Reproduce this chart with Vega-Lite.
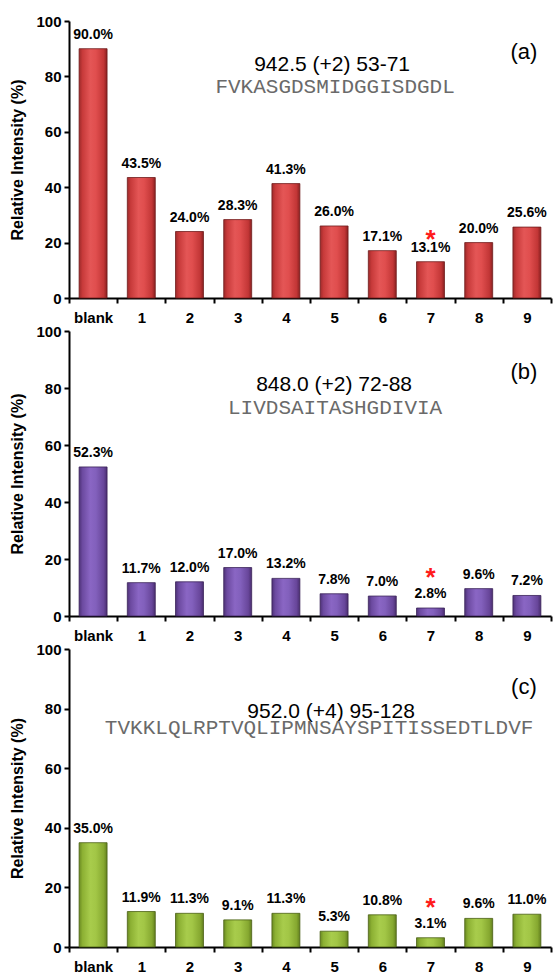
{
  "$schema": "https://vega.github.io/schema/vega-lite/v6.json",
  "background": "white",
  "padding": {"left": 9, "top": 14, "right": 2, "bottom": 2},
  "spacing": 33,
  "bounds": "flush",
  "config": {
    "view": {"stroke": null},
    "font": "Liberation Sans",
    "axis": {
      "domainColor": "black", "domainWidth": 2,
      "tickColor": "black", "tickWidth": 2, "tickSize": 5,
      "labelFont": "Liberation Sans", "labelFontWeight": "bold", "labelFontSize": 15, "labelColor": "black",
      "titleFont": "Liberation Sans", "titleFontWeight": "bold", "titleFontSize": 16, "titleColor": "black",
      "grid": false
    }
  },
  "datasets": {
    "bars": [
      {"panel": "a", "sample": "blank", "value": 90.0, "label": "90.0%"},
      {"panel": "a", "sample": "1", "value": 43.5, "label": "43.5%"},
      {"panel": "a", "sample": "2", "value": 24.0, "label": "24.0%"},
      {"panel": "a", "sample": "3", "value": 28.3, "label": "28.3%"},
      {"panel": "a", "sample": "4", "value": 41.3, "label": "41.3%"},
      {"panel": "a", "sample": "5", "value": 26.0, "label": "26.0%"},
      {"panel": "a", "sample": "6", "value": 17.1, "label": "17.1%"},
      {"panel": "a", "sample": "7", "value": 13.1, "label": "13.1%"},
      {"panel": "a", "sample": "8", "value": 20.0, "label": "20.0%"},
      {"panel": "a", "sample": "9", "value": 25.6, "label": "25.6%"},
      {"panel": "b", "sample": "blank", "value": 52.3, "label": "52.3%"},
      {"panel": "b", "sample": "1", "value": 11.7, "label": "11.7%"},
      {"panel": "b", "sample": "2", "value": 12.0, "label": "12.0%"},
      {"panel": "b", "sample": "3", "value": 17.0, "label": "17.0%"},
      {"panel": "b", "sample": "4", "value": 13.2, "label": "13.2%"},
      {"panel": "b", "sample": "5", "value": 7.8, "label": "7.8%"},
      {"panel": "b", "sample": "6", "value": 7.0, "label": "7.0%"},
      {"panel": "b", "sample": "7", "value": 2.8, "label": "2.8%"},
      {"panel": "b", "sample": "8", "value": 9.6, "label": "9.6%"},
      {"panel": "b", "sample": "9", "value": 7.2, "label": "7.2%"},
      {"panel": "c", "sample": "blank", "value": 35.0, "label": "35.0%"},
      {"panel": "c", "sample": "1", "value": 11.9, "label": "11.9%"},
      {"panel": "c", "sample": "2", "value": 11.3, "label": "11.3%"},
      {"panel": "c", "sample": "3", "value": 9.1, "label": "9.1%"},
      {"panel": "c", "sample": "4", "value": 11.3, "label": "11.3%"},
      {"panel": "c", "sample": "5", "value": 5.3, "label": "5.3%"},
      {"panel": "c", "sample": "6", "value": 10.8, "label": "10.8%"},
      {"panel": "c", "sample": "7", "value": 3.1, "label": "3.1%"},
      {"panel": "c", "sample": "8", "value": 9.6, "label": "9.6%"},
      {"panel": "c", "sample": "9", "value": 11.0, "label": "11.0%"}
    ]
  },
  "vconcat": [
    {
      "width": 482, "height": 277,
      "layer": [
        {"data": {"name": "bars"}, "transform": [{"filter": "datum.panel === 'a'"}],
         "mark": {"type": "bar", "width": {"band": 0.58}, "stroke": "#6e1c1c", "strokeWidth": 0.8,
                  "fill": {"gradient": "linear", "x1": 0, "y1": 0, "x2": 1, "y2": 0,
                           "stops": [{"offset": 0, "color": "#9e2a2a"}, {"offset": 0.12, "color": "#c73a3a"}, {"offset": 0.4, "color": "#e45656"}, {"offset": 0.6, "color": "#e04e4e"}, {"offset": 0.88, "color": "#c23636"}, {"offset": 1, "color": "#8a2020"}]}},
         "encoding": {
           "x": {"field": "sample", "type": "nominal",
                 "scale": {"domain": ["blank","1","2","3","4","5","6","7","8","9"], "paddingInner": 0, "paddingOuter": 0},
                 "axis": {"title": null, "labelAngle": 0, "tickBand": "extent", "labelPadding": 7}},
           "y": {"field": "value", "type": "quantitative",
                 "scale": {"domain": [0, 100]},
                 "axis": {"title": "Relative Intensity (%)", "values": [0,20,40,60,80,100], "labelPadding": 3, "titlePadding": 10}}
         }},
        {"data": {"name": "bars"}, "transform": [{"filter": "datum.panel === 'a'"}],
         "mark": {"type": "text", "fontWeight": "bold", "fontSize": 14, "color": "black", "baseline": "alphabetic", "dy": -10},
         "encoding": {"x": {"field": "sample", "type": "nominal"}, "y": {"field": "value", "type": "quantitative"}, "text": {"field": "label"}}},
        {"data": {"name": "bars"}, "transform": [{"filter": "datum.panel === 'a' && datum.sample === '7'"}],
         "mark": {"type": "text", "text": "*", "fontWeight": "bold", "fontSize": 26, "color": "#ff1a1a", "baseline": "alphabetic", "dy": -14},
         "encoding": {"x": {"field": "sample", "type": "nominal"}, "y": {"field": "value", "type": "quantitative"}}},
        {"data": {"values": [{"mass": "942.5 (+2) 53-71", "seq": "FVKASGDSMIDGGISDGDL", "letter": "(a)"}]},
         "mark": {"type": "text", "fontSize": 21, "color": "black", "baseline": "middle", "dx": -2},
         "encoding": {"x": {"datum": "5"}, "y": {"datum": 84.1}, "text": {"field": "mass"}}},
        {"data": {"values": [{"mass": "942.5 (+2) 53-71", "seq": "FVKASGDSMIDGGISDGDL", "letter": "(a)"}]},
         "mark": {"type": "text", "font": "Liberation Mono", "fontSize": 21, "color": "#6a6a6a", "baseline": "middle", "dx": 1},
         "encoding": {"x": {"datum": "5"}, "y": {"datum": 76.0}, "text": {"field": "seq"}}},
        {"data": {"values": [{"mass": "942.5 (+2) 53-71", "seq": "FVKASGDSMIDGGISDGDL", "letter": "(a)"}]},
         "mark": {"type": "text", "fontSize": 22, "color": "black", "baseline": "middle", "dx": -3},
         "encoding": {"x": {"datum": "9"}, "y": {"datum": 88.8}, "text": {"field": "letter"}}}
      ]
    },
    {
      "width": 482, "height": 285,
      "layer": [
        {"data": {"name": "bars"}, "transform": [{"filter": "datum.panel === 'b'"}],
         "mark": {"type": "bar", "width": {"band": 0.58}, "stroke": "#3a2258", "strokeWidth": 0.8,
                  "fill": {"gradient": "linear", "x1": 0, "y1": 0, "x2": 1, "y2": 0,
                           "stops": [{"offset": 0, "color": "#4e3278"}, {"offset": 0.12, "color": "#6c4aa0"}, {"offset": 0.4, "color": "#8a66c4"}, {"offset": 0.6, "color": "#8260bc"}, {"offset": 0.88, "color": "#68469a"}, {"offset": 1, "color": "#4a2e70"}]}},
         "encoding": {
           "x": {"field": "sample", "type": "nominal",
                 "scale": {"domain": ["blank","1","2","3","4","5","6","7","8","9"], "paddingInner": 0, "paddingOuter": 0},
                 "axis": {"title": null, "labelAngle": 0, "tickBand": "extent", "labelPadding": 7}},
           "y": {"field": "value", "type": "quantitative",
                 "scale": {"domain": [0, 100]},
                 "axis": {"title": "Relative Intensity (%)", "values": [0,20,40,60,80,100], "labelPadding": 3, "titlePadding": 10}}
         }},
        {"data": {"name": "bars"}, "transform": [{"filter": "datum.panel === 'b'"}],
         "mark": {"type": "text", "fontWeight": "bold", "fontSize": 14, "color": "black", "baseline": "alphabetic", "dy": -10},
         "encoding": {"x": {"field": "sample", "type": "nominal"}, "y": {"field": "value", "type": "quantitative"}, "text": {"field": "label"}}},
        {"data": {"name": "bars"}, "transform": [{"filter": "datum.panel === 'b' && datum.sample === '7'"}],
         "mark": {"type": "text", "text": "*", "fontWeight": "bold", "fontSize": 26, "color": "#ff1a1a", "baseline": "alphabetic", "dy": -22},
         "encoding": {"x": {"field": "sample", "type": "nominal"}, "y": {"field": "value", "type": "quantitative"}}},
        {"data": {"values": [{"mass": "848.0 (+2) 72-88", "seq": "LIVDSAITASHGDIVIA", "letter": "(b)"}]},
         "mark": {"type": "text", "fontSize": 21, "color": "black", "baseline": "middle", "dx": 0},
         "encoding": {"x": {"datum": "5"}, "y": {"datum": 81.1}, "text": {"field": "mass"}}},
        {"data": {"values": [{"mass": "848.0 (+2) 72-88", "seq": "LIVDSAITASHGDIVIA", "letter": "(b)"}]},
         "mark": {"type": "text", "font": "Liberation Mono", "fontSize": 21, "color": "#6a6a6a", "baseline": "middle", "dx": 1},
         "encoding": {"x": {"datum": "5"}, "y": {"datum": 73.0}, "text": {"field": "seq"}}},
        {"data": {"values": [{"mass": "848.0 (+2) 72-88", "seq": "LIVDSAITASHGDIVIA", "letter": "(b)"}]},
         "mark": {"type": "text", "fontSize": 22, "color": "black", "baseline": "middle", "dx": -3},
         "encoding": {"x": {"datum": "9"}, "y": {"datum": 85.6}, "text": {"field": "letter"}}}
      ]
    },
    {
      "width": 482, "height": 298,
      "layer": [
        {"data": {"name": "bars"}, "transform": [{"filter": "datum.panel === 'c'"}],
         "mark": {"type": "bar", "width": {"band": 0.58}, "stroke": "#4a6014", "strokeWidth": 0.8,
                  "fill": {"gradient": "linear", "x1": 0, "y1": 0, "x2": 1, "y2": 0,
                           "stops": [{"offset": 0, "color": "#6a8a22"}, {"offset": 0.12, "color": "#8cb033"}, {"offset": 0.4, "color": "#a8cc4c"}, {"offset": 0.6, "color": "#a2c646"}, {"offset": 0.88, "color": "#86a830"}, {"offset": 1, "color": "#63801e"}]}},
         "encoding": {
           "x": {"field": "sample", "type": "nominal",
                 "scale": {"domain": ["blank","1","2","3","4","5","6","7","8","9"], "paddingInner": 0, "paddingOuter": 0},
                 "axis": {"title": null, "labelAngle": 0, "tickBand": "extent", "labelPadding": 7}},
           "y": {"field": "value", "type": "quantitative",
                 "scale": {"domain": [0, 100]},
                 "axis": {"title": "Relative Intensity (%)", "values": [0,20,40,60,80,100], "labelPadding": 3, "titlePadding": 10}}
         }},
        {"data": {"name": "bars"}, "transform": [{"filter": "datum.panel === 'c'"}],
         "mark": {"type": "text", "fontWeight": "bold", "fontSize": 14, "color": "black", "baseline": "alphabetic", "dy": -10},
         "encoding": {"x": {"field": "sample", "type": "nominal"}, "y": {"field": "value", "type": "quantitative"}, "text": {"field": "label"}}},
        {"data": {"name": "bars"}, "transform": [{"filter": "datum.panel === 'c' && datum.sample === '7'"}],
         "mark": {"type": "text", "text": "*", "fontWeight": "bold", "fontSize": 26, "color": "#ff1a1a", "baseline": "alphabetic", "dy": -22},
         "encoding": {"x": {"field": "sample", "type": "nominal"}, "y": {"field": "value", "type": "quantitative"}}},
        {"data": {"values": [{"mass": "952.0 (+4) 95-128", "seq": "TVKKLQLRPTVQLIPMNSAYSPITISSEDTLDVF", "letter": "(c)"}]},
         "mark": {"type": "text", "fontSize": 21, "color": "black", "baseline": "middle", "dx": -3},
         "encoding": {"x": {"datum": "5"}, "y": {"datum": 78.9}, "text": {"field": "mass"}}},
        {"data": {"values": [{"mass": "952.0 (+4) 95-128", "seq": "TVKKLQLRPTVQLIPMNSAYSPITISSEDTLDVF", "letter": "(c)"}]},
         "mark": {"type": "text", "font": "Liberation Mono", "fontSize": 21, "color": "#6a6a6a", "baseline": "middle", "dx": -15},
         "encoding": {"x": {"datum": "5"}, "y": {"datum": 73.5}, "text": {"field": "seq"}}},
        {"data": {"values": [{"mass": "952.0 (+4) 95-128", "seq": "TVKKLQLRPTVQLIPMNSAYSPITISSEDTLDVF", "letter": "(c)"}]},
         "mark": {"type": "text", "fontSize": 22, "color": "black", "baseline": "middle", "dx": -3},
         "encoding": {"x": {"datum": "9"}, "y": {"datum": 87.2}, "text": {"field": "letter"}}}
      ]
    }
  ]
}
